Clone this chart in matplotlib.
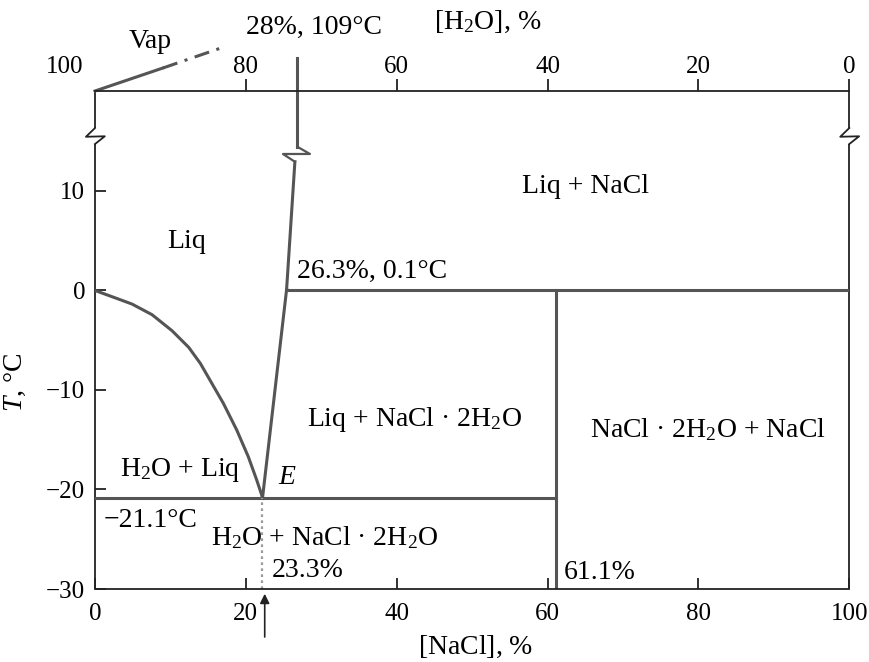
import matplotlib
matplotlib.use("Agg")
import matplotlib.pyplot as plt

plt.rcParams['font.family'] = ['Liberation Serif', 'DejaVu Serif']
plt.rcParams['mathtext.fontset'] = 'custom'
plt.rcParams['mathtext.rm'] = 'Liberation Serif'
plt.rcParams['mathtext.it'] = 'Liberation Serif:italic'
plt.rcParams['font.size'] = 20

# ---- data ----
ice_x = [0, 2.25, 4.9, 7.56, 10.21, 12.42, 13.96, 17.01, 18.79, 20.32, 21.44, 22.1, 22.2]
ice_y = [0, -0.62, -1.36, -2.43, -4.04, -5.71, -7.32, -11.33, -14.02, -16.7, -19.05, -20.55, -20.9]

eut_x, eut_y = 22.2, -20.9          # eutectic E
per_x, per_y = 25.4, 0.1            # peritectic
hyd_x = 61.1                        # NaCl·2H2O composition
liq_up_x = [25.4, 26.5]             # NaCl liquidus below break
liq_up_y = [0.1, 12.94]
liq_top_x = [26.82, 26.82, 26.82]   # NaCl liquidus above break (to 109 °C)
liq_top_y = [14.45, 20.05, 23.4]
vap_solid_x = [0, 9.0]
vap_solid_y = [20.05, 22.36]
vap_dash_x = [9.0, 16.8]
vap_dash_y = [22.36, 24.4]

bottom_ticks = [0, 20, 40, 60, 80, 100]
left_ticks = [-30, -20, -10, 0, 10]
top_tick_pos = [20, 40, 60, 80, 100]
top_tick_labels = ['80', '60', '40', '20', '0']

XMIN, XMAX = 0, 100
YMIN, YMAX = -30, 20.05

curve_c = '#555555'
frame_c = '#222222'
lw_c = 2.2
lw_f = 1.3
tfs = 18   # tick labels
fs = 20    # annotations

fig = plt.figure(figsize=(8.7, 6.62), dpi=100)
ax = fig.add_axes([95/870, 1-589/662, (849.3-95)/870, (589-91)/662])
ax.set_xlim(XMIN, XMAX)
ax.set_ylim(YMIN, YMAX)

for s in ['left', 'right']:
    ax.spines[s].set_visible(False)
for s in ['top', 'bottom']:
    ax.spines[s].set_linewidth(lw_f)
    ax.spines[s].set_color(frame_c)

# broken left / right frame
for xs in [XMIN, XMAX]:
    ax.plot([xs, xs], [YMIN, 14.72], color=frame_c, lw=lw_f, clip_on=False, solid_capstyle='butt')
    ax.plot([xs, xs], [16.33, YMAX], color=frame_c, lw=lw_f, clip_on=False, solid_capstyle='butt')
    ax.plot([xs, xs-1.2, xs+1.3, xs], [16.33, 15.45, 15.5, 14.72], color=frame_c, lw=lw_f, clip_on=False)

ax.set_xticks(bottom_ticks)
ax.set_yticks(left_ticks)
ax.tick_params(axis='x', direction='in', length=8, width=lw_f, color=frame_c, pad=10, labelsize=tfs)
ax.tick_params(axis='y', direction='in', length=8, width=lw_f, color=frame_c, pad=7, labelsize=tfs)

ax2 = ax.twiny()
ax2.set_xlim(XMIN, XMAX)
ax2.set_xticks(top_tick_pos)
ax2.set_xticklabels(top_tick_labels)
ax2.tick_params(axis='x', direction='out', length=9, width=lw_f, color=frame_c, pad=0.5, labelsize=tfs)
for s in ax2.spines.values():
    s.set_visible(False)
ax.text(-1.6, 1.036, '100', transform=ax.get_xaxis_transform(), ha='right', va='baseline', fontsize=tfs)

# phase boundaries
ax.plot(ice_x, ice_y, color=curve_c, lw=lw_c, solid_capstyle='round', solid_joinstyle='round')
ax.plot([eut_x, per_x], [eut_y, per_y], color=curve_c, lw=lw_c)
ax.plot(liq_up_x, liq_up_y, color=curve_c, lw=lw_c)
ax.plot([liq_up_x[-1], 24.92, 28.5, liq_top_x[0]], [liq_up_y[-1], 13.72, 13.72, liq_top_y[0]],
        color=curve_c, lw=1.6)
ax.plot(liq_top_x, liq_top_y, color=curve_c, lw=lw_c, clip_on=False)
ax.plot([XMIN, hyd_x], [eut_y, eut_y], color=curve_c, lw=lw_c)
ax.plot([per_x, XMAX], [per_y, per_y], color=curve_c, lw=lw_c)
ax.plot([hyd_x, hyd_x], [YMIN, per_y], color=curve_c, lw=lw_c)
ax.plot([eut_x, eut_x], [YMIN, eut_y], color='#9a9a9a', lw=1.6, ls=(0, (1.2, 1.5)))
ax.plot(vap_solid_x, vap_solid_y, color=curve_c, lw=lw_c, clip_on=False)
ax.plot(vap_dash_x, vap_dash_y, color=curve_c, lw=lw_c, clip_on=False, ls=(0, (5, 2.5, 1, 2.5)))

# arrow under the eutectic composition
ax.annotate('', xy=(22.5, -30.2), xytext=(22.5, -35.1), xycoords='data',
            arrowprops=dict(arrowstyle='-|>', color=frame_c, lw=1.2, mutation_scale=14),
            annotation_clip=False)

# labels in the diagram
ax.text(7.3, 25.0, 'Vap', ha='center', va='center', fontsize=fs, clip_on=False)
ax.text(29.0, 26.4, '28%, 109°C', ha='center', va='center', fontsize=fs, clip_on=False)
ax.text(65, 10.5, 'Liq + NaCl', ha='center', va='center', fontsize=fs)
ax.text(12.2, 4.9, 'Liq', ha='center', va='center', fontsize=fs)
ax.text(36.7, 1.9, '26.3%, 0.1°C', ha='center', va='center', fontsize=fs)
ax.text(42.4, -13.0, r'Liq + NaCl · 2H$_2$O', ha='center', va='center', fontsize=fs)
ax.text(81.3, -14.0, r'NaCl · 2H$_2$O + NaCl', ha='center', va='center', fontsize=fs)
ax.text(11.3, -18.0, r'H$_2$O + Liq', ha='center', va='center', fontsize=fs)
ax.text(25.4, -18.8, 'E', ha='center', va='center', fontsize=fs, style='italic')
ax.text(7.3, -23.1, '−21.1°C', ha='center', va='center', fontsize=fs)
ax.text(30.5, -24.8, r'H$_2$O + NaCl · 2H$_2$O', ha='center', va='center', fontsize=fs)
ax.text(28.2, -28.1, '23.3%', ha='center', va='center', fontsize=fs)
ax.text(66.9, -28.3, '61.1%', ha='center', va='center', fontsize=fs)

# axis titles
ax.text(0.505, -0.117, '[NaCl], $\\it{\\%}$', transform=ax.transAxes, ha='center', va='center', fontsize=fs)
ax.text(0.521, 1.1386, '[H$_2$O], $\\it{\\%}$', transform=ax.transAxes, ha='center', va='center', fontsize=fs)
ax.text(-0.105, 0.414, '$\\it{T}$, °C', transform=ax.transAxes, ha='center', va='center',
        rotation=90, fontsize=fs)

fig.savefig('out.png', dpi=100)
